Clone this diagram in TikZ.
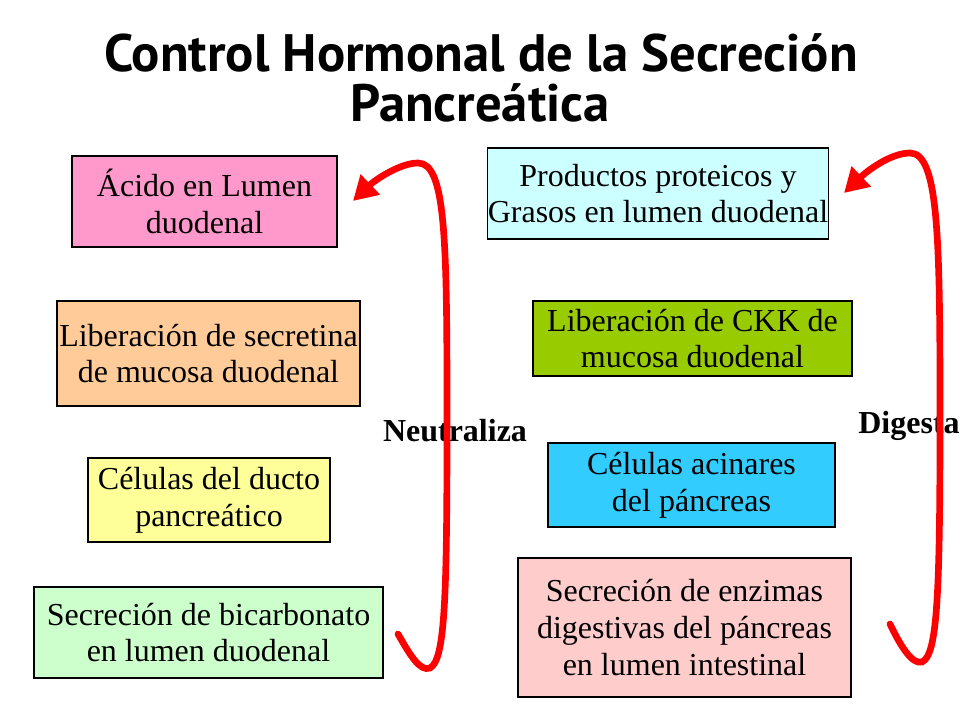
\documentclass[tikz,border=0pt]{standalone}
\usepackage{fontspec}
\setmainfont{Liberation Serif}
\newfontfamily\titlefont{PT Sans}
\usetikzlibrary{arrows.meta}
\definecolor{cpink}{HTML}{FF99CC}
\definecolor{corange}{HTML}{FFCC99}
\definecolor{cyellow}{HTML}{FFFF99}
\definecolor{cgreen}{HTML}{CCFFCC}
\definecolor{ccyan}{HTML}{CCFFFF}
\definecolor{colive}{HTML}{99CC00}
\definecolor{cblue}{HTML}{33CCFF}
\definecolor{crose}{HTML}{FFCCCC}
\tikzset{
  box/.style={draw=black, line width=0.8pt, inner sep=0pt, align=center,
    font=\fontsize{24}{27.6}\selectfont},
  lbl/.style={font=\fontsize{24}{28}\selectfont\bfseries, anchor=base},
  ttl/.style={font=\titlefont\fontsize{39.5}{44}\selectfont\bfseries, anchor=base},
  redarrow/.style={draw=red, line width=5pt, line cap=round,
    -{Triangle[length=18pt,width=20pt]}}
}
\begin{document}
\begin{tikzpicture}[x=0.75pt,y=-0.75pt]
\useasboundingbox (0,0) rectangle (960,720);
\fill[white] (0,0) rectangle (960,720);
% title
\node[ttl] (t1) at (481,72) {Control Hormonal de la Secreción};
\node[ttl] (t2) at (480,122) {Pancreática};
% left column
\node[box, fill=cpink, minimum width=265*0.75pt, minimum height=91*0.75pt] (b1) at (204.5,201.5) {Ácido en Lumen\\duodenal};
\node[box, fill=corange, minimum width=303*0.75pt, minimum height=105*0.75pt] (b2) at (208.5,353.5) {Liberación de secretina\\de mucosa  duodenal};
\node[box, fill=cyellow, minimum width=242*0.75pt, minimum height=84*0.75pt] (b3) at (209,500) {Células del ducto\\pancreático};
\node[box, fill=cgreen, minimum width=349*0.75pt, minimum height=91*0.75pt] (b4) at (208.5,632.5) {Secreción de bicarbonato\\en lumen duodenal};
% right column
\node[box, fill=ccyan, minimum width=340*0.75pt, minimum height=91*0.75pt] (b5) at (658,193.5) {Productos proteicos y\\Grasos en lumen duodenal};
\node[box, fill=colive, minimum width=319*0.75pt, minimum height=75*0.75pt] (b6) at (692.5,338.5) {Liberación de CKK de\\mucosa duodenal};
\node[box, fill=cblue, minimum width=287*0.75pt, minimum height=84*0.75pt] (b7) at (691.5,485) {Células acinares\\del páncreas};
\node[box, fill=crose, minimum width=333*0.75pt, minimum height=139*0.75pt] (b8) at (684.5,627.5) {Secreción de enzimas\\digestivas del páncreas\\en lumen intestinal};
% labels
\node[lbl] (neu) at (455,441) {Neutraliza};
\node[lbl] (dig) at (909,433) {Digesta};
% arrows
\coordinate (ls) at (398,634);
\coordinate (le) at (353,201);
\coordinate (rs) at (890,624);
\coordinate (re) at (844,193);
\draw[redarrow] (ls) .. controls (410,655) and (420,672) .. (430,668)
  .. controls (445,660) and (447,600) .. (447,420)
  .. controls (447,240) and (446,163) .. (418,163)
  .. controls (400,163) and (375,180) .. (le);
\draw[redarrow] (rs) .. controls (900,645) and (912,665) .. (922,662)
  .. controls (937,655) and (940,600) .. (940,420)
  .. controls (940,240) and (939,153) .. (910,153)
  .. controls (890,153) and (866,172) .. (re);
\end{tikzpicture}
\end{document}
